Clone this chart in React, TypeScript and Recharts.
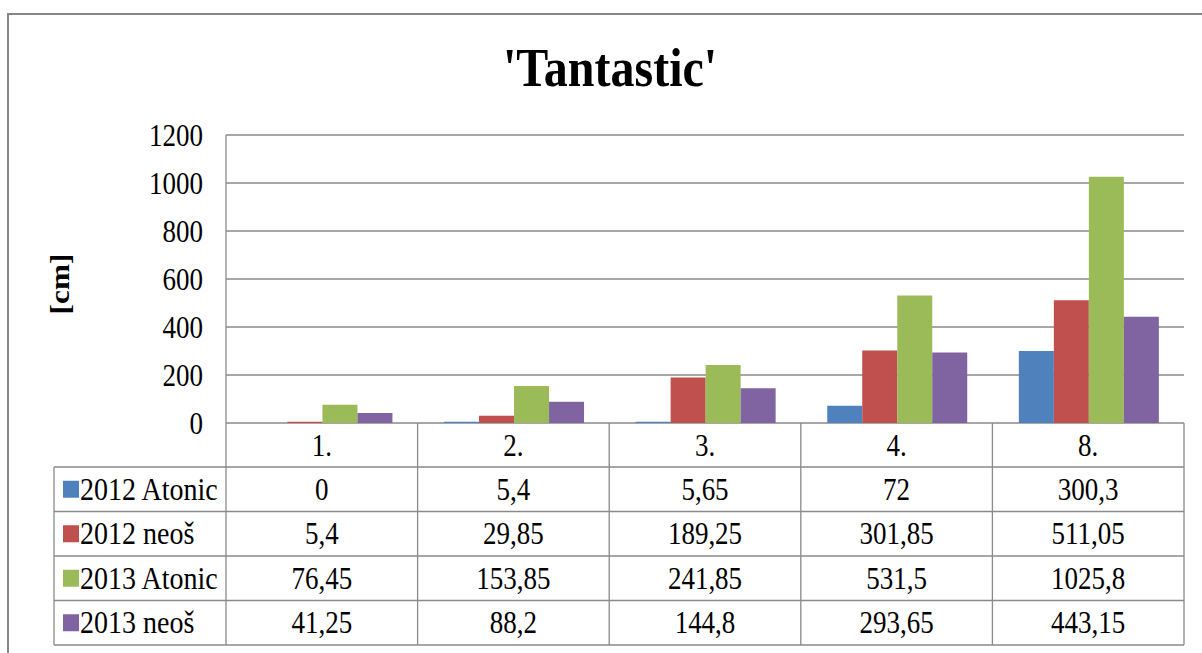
import React from 'react';
import { BarChart, Bar, YAxis, XAxis, CartesianGrid } from 'recharts';

const categories = ['1.', '2.', '3.', '4.', '8.'];
const seriesNames = ['2012 Atonic', '2012 neoš', '2013 Atonic', '2013 neoš'];
const atonic2012 = [0, 5.4, 5.65, 72, 300.3];
const neos2012 = [5.4, 29.85, 189.25, 301.85, 511.05];
const atonic2013 = [76.45, 153.85, 241.85, 531.5, 1025.8];
const neos2013 = [41.25, 88.2, 144.8, 293.65, 443.15];
const yTicks = [0, 200, 400, 600, 800, 1000, 1200];
const colors = ['#4F81BD', '#C0504D', '#9BBB59', '#8064A2'];

const seriesValues = [atonic2012, neos2012, atonic2013, neos2013];
const keys = ['s0', 's1', 's2', 's3'];
const data = categories.map((c, i) => {
  const row: any = { cat: c };
  keys.forEach((k, j) => (row[k] = seriesValues[j][i]));
  return row;
});

const W = 1202;
const H = 653;
const PLOT_L = 226;
const PLOT_R = 1184;
const PLOT_T = 135;
const PLOT_B = 423;
const Y_AXIS_W = 80;
const CAT_ROW_H = 44;
const ROW_H = 44.5;
const TABLE_L = 54;
const FONT = '"Liberation Serif", "Times New Roman", serif';
const SY = 1.16;
const GRID = '#8a8a8a';

const fmt = (v: number) => String(v).replace('.', ',');

const YTick = (props: any) => {
  const { x, y, payload } = props;
  return (
    <text
      transform={`translate(${x},${y}) scale(1,${SY})`}
      textAnchor="end"
      dominantBaseline="central"
      fontFamily={FONT}
      fontSize={27}
      fill="#000"
    >
      {payload.value}
    </text>
  );
};

const Table = () => {
  const colW = (PLOT_R - PLOT_L) / categories.length;
  const rowTop = PLOT_B + CAT_ROW_H;
  const bottom = rowTop + ROW_H * seriesNames.length;
  const els: any[] = [];
  for (let i = 0; i <= categories.length; i++) {
    const x = PLOT_L + i * colW;
    els.push(<line key={'v' + i} x1={x} x2={x} y1={PLOT_B} y2={bottom} stroke={GRID} strokeWidth={1.3} />);
  }
  els.push(<line key="vl" x1={TABLE_L} x2={TABLE_L} y1={rowTop} y2={bottom} stroke={GRID} strokeWidth={1.3} />);
  for (let r = 0; r <= seriesNames.length; r++) {
    const y = rowTop + r * ROW_H;
    els.push(<line key={'h' + r} x1={TABLE_L} x2={PLOT_R} y1={y} y2={y} stroke={GRID} strokeWidth={1.3} />);
  }
  categories.forEach((c, i) => {
    els.push(
      <text key={'c' + i} transform={`translate(${PLOT_L + (i + 0.5) * colW},${PLOT_B + CAT_ROW_H / 2}) scale(1,${SY})`}
        textAnchor="middle" dominantBaseline="central" fontFamily={FONT} fontSize={27} fill="#000">{c}</text>
    );
  });
  seriesNames.forEach((name, r) => {
    const cy = rowTop + (r + 0.5) * ROW_H;
    els.push(<rect key={'m' + r} x={63} y={cy - 8.5} width={16} height={17} fill={colors[r]} />);
    els.push(
      <text key={'n' + r} transform={`translate(80,${cy}) scale(1,${SY})`} textAnchor="start" dominantBaseline="central"
        fontFamily={FONT} fontSize={28} fill="#000">{name}</text>
    );
    seriesValues[r].forEach((v, i) => {
      els.push(
        <text key={'t' + r + '_' + i} transform={`translate(${PLOT_L + (i + 0.5) * colW},${cy}) scale(1,${SY})`}
          textAnchor="middle" dominantBaseline="central" fontFamily={FONT} fontSize={27} fill="#000">{fmt(v)}</text>
      );
    });
  });
  return (
    <svg width={W} height={H} style={{ position: 'absolute', left: 0, top: 0, pointerEvents: 'none' }}>
      {els}
      <text transform={`translate(610,86) scale(1,1.13)`} textAnchor="middle" fontFamily={FONT} fontSize={48} fontWeight="bold" fill="#000">
        'Tantastic'
      </text>
      <text transform={`translate(60,284) scale(1,${SY}) rotate(-90)`} textAnchor="middle" dominantBaseline="central"
        fontFamily={FONT} fontSize={27} fontWeight="bold" fill="#000">[cm]</text>
    </svg>
  );
};

export default function App() {
  return (
    <div style={{ position: 'fixed', left: 0, top: 0, width: W, height: H, overflow: 'hidden', background: '#fff' }}>
      <div style={{ position: 'absolute', left: 7, top: 13, width: 1300, height: 800, border: '2px solid #868686', boxSizing: 'border-box' }} />
      <div style={{ position: 'absolute', left: 0, top: 0 }}>
        <BarChart
          width={W}
          height={H}
          data={data}
          margin={{ top: PLOT_T, right: W - PLOT_R, bottom: H - PLOT_B, left: PLOT_L - Y_AXIS_W }}
          barCategoryGap="13.8%"
          barGap={0}
        >
          <CartesianGrid vertical={false} stroke={GRID} strokeWidth={1.3} />
          <XAxis dataKey="cat" hide />
          <YAxis
            width={Y_AXIS_W}
            domain={[0, 1200]}
            ticks={yTicks}
            interval={0}
            tickLine={false}
            tickSize={0}
            tickMargin={23}
            axisLine={{ stroke: GRID, strokeWidth: 1.3 }}
            tick={<YTick />}
          />
          {keys.map((k, j) => (
            <Bar key={k} dataKey={k} fill={colors[j]} isAnimationActive={false} />
          ))}
        </BarChart>
      </div>
      <Table />
    </div>
  );
}
